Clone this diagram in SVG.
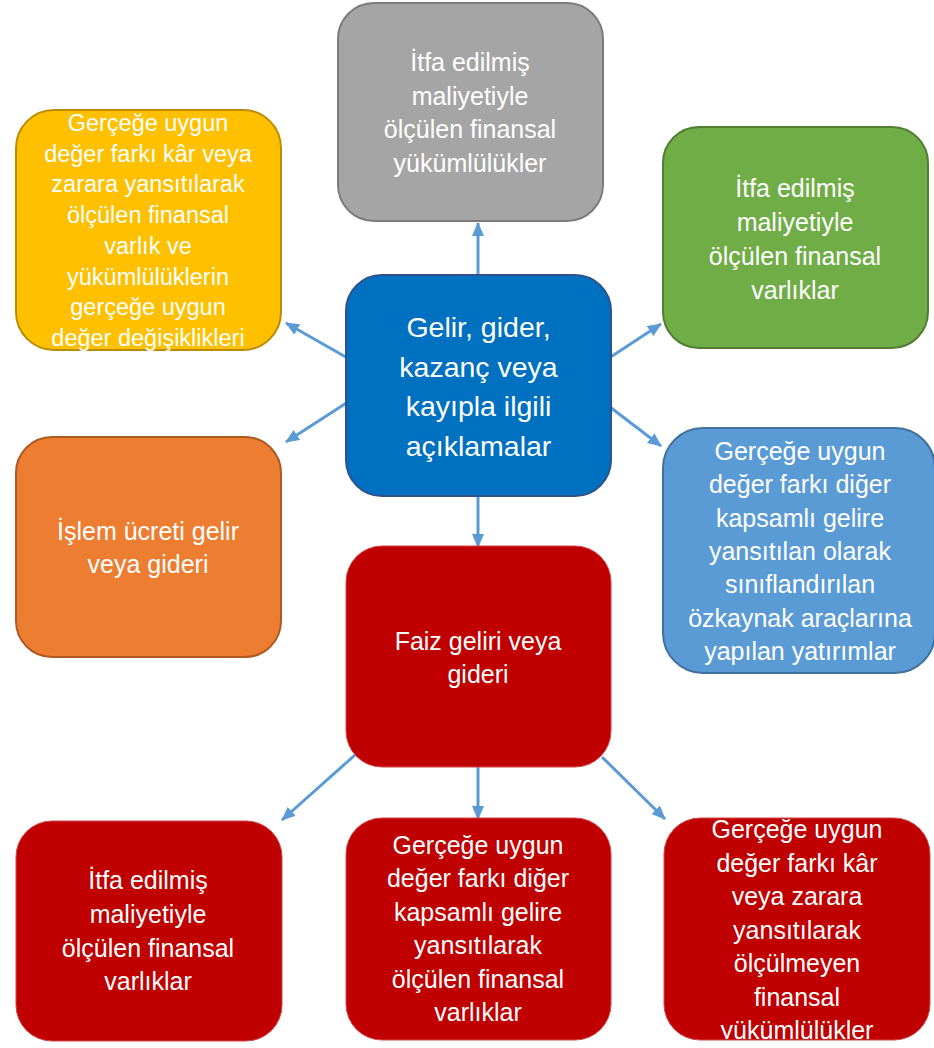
<svg xmlns="http://www.w3.org/2000/svg" width="934" height="1048" viewBox="0 0 934 1048">
<style>
.t{font-family:"Liberation Sans",Arial,sans-serif;font-size:25px;fill:#FFFFFF;text-anchor:middle}
.ts{font-size:23.5px}
.tl{font-size:28.5px}
.c{stroke:#5B9BD5;stroke-width:3;fill:none;marker-end:url(#ah)}
</style>
<defs>
<marker id="ah" markerUnits="userSpaceOnUse" markerWidth="14" markerHeight="12" viewBox="0 0 14 12" refX="13" refY="6" orient="auto">
<path d="M0,0 L14,6 L0,12 Z" fill="#5B9BD5"/>
</marker>
<clipPath id="clipBR"><rect x="664" y="818" width="267" height="221"/></clipPath>
</defs>
<rect width="934" height="1048" fill="#FFFFFF"/>

<g id="connectors">
<line class="c" x1="478" y1="275" x2="478" y2="223"/>
<line class="c" x1="351" y1="360" x2="286" y2="323"/>
<line class="c" x1="351" y1="400" x2="286" y2="442"/>
<line class="c" x1="606" y1="360" x2="661" y2="324"/>
<line class="c" x1="606" y1="404" x2="661" y2="446"/>
<line class="c" x1="478" y1="496" x2="478" y2="547"/>
<line class="c" x1="355" y1="755" x2="282" y2="820"/>
<line class="c" x1="478" y1="767" x2="478" y2="819"/>
<line class="c" x1="602" y1="757" x2="665" y2="819"/>
</g>

<g id="node-gray">
<rect x="338" y="3" width="265" height="218" rx="36" fill="#A5A5A5" stroke="#7C7C7C" stroke-width="2"/>
<text class="t" x="470" y="71">İtfa edilmiş</text>
<text class="t" x="470" y="104.5">maliyetiyle</text>
<text class="t" x="470" y="138">ölçülen finansal</text>
<text class="t" x="470" y="171.5">yükümlülükler</text>
</g>

<g id="node-yellow">
<rect x="16" y="110" width="265" height="240" rx="38" fill="#FFC000" stroke="#BC8C00" stroke-width="2"/>
<text class="t ts" x="148" y="131">Gerçeğe uygun</text>
<text class="t ts" x="148" y="161.7">değer farkı kâr veya</text>
<text class="t ts" x="148" y="192.4">zarara yansıtılarak</text>
<text class="t ts" x="148" y="223.1">ölçülen finansal</text>
<text class="t ts" x="148" y="253.8">varlık ve</text>
<text class="t ts" x="148" y="284.5">yükümlülüklerin</text>
<text class="t ts" x="148" y="315.2">gerçeğe uygun</text>
<text class="t ts" x="148" y="345.9">değer değişiklikleri</text>
</g>

<g id="node-green">
<rect x="663" y="127" width="265" height="221" rx="36" fill="#70AD47" stroke="#507E32" stroke-width="2"/>
<text class="t" x="795" y="197">İtfa edilmiş</text>
<text class="t" x="795" y="231">maliyetiyle</text>
<text class="t" x="795" y="265">ölçülen finansal</text>
<text class="t" x="795" y="299">varlıklar</text>
</g>

<g id="node-center">
<rect x="346" y="275" width="265" height="221" rx="36" fill="#0070C0" stroke="#2F528F" stroke-width="2"/>
<text class="t tl" x="478.5" y="337">Gelir, gider,</text>
<text class="t tl" x="478.5" y="376.5">kazanç veya</text>
<text class="t tl" x="478.5" y="416">kayıpla ilgili</text>
<text class="t tl" x="478.5" y="455.5">açıklamalar</text>
</g>

<g id="node-orange">
<rect x="16" y="437" width="265" height="220" rx="36" fill="#ED7D31" stroke="#AE5A21" stroke-width="2"/>
<text class="t" x="148" y="540">İşlem ücreti gelir</text>
<text class="t" x="148" y="573">veya gideri</text>
</g>

<g id="node-lightblue">
<rect x="663" y="428" width="272" height="245" rx="40" fill="#5B9BD5" stroke="#41719C" stroke-width="2"/>
<text class="t" x="800" y="460">Gerçeğe uygun</text>
<text class="t" x="800" y="493.3">değer farkı diğer</text>
<text class="t" x="800" y="526.7">kapsamlı gelire</text>
<text class="t" x="800" y="560">yansıtılan olarak</text>
<text class="t" x="800" y="593.3">sınıflandırılan</text>
<text class="t" x="800" y="626.7">özkaynak araçlarına</text>
<text class="t" x="800" y="660">yapılan yatırımlar</text>
</g>

<g id="node-interest">
<rect x="346" y="546" width="265" height="221" rx="36" fill="#C00000" stroke="#D04848" stroke-width="1"/>
<text class="t" x="478" y="650">Faiz geliri veya</text>
<text class="t" x="478" y="683">gideri</text>
</g>

<g id="node-bottom-left">
<rect x="16" y="821" width="266" height="220" rx="36" fill="#C00000" stroke="#D04848" stroke-width="1"/>
<text class="t" x="148" y="889">İtfa edilmiş</text>
<text class="t" x="148" y="923">maliyetiyle</text>
<text class="t" x="148" y="957">ölçülen finansal</text>
<text class="t" x="148" y="990">varlıklar</text>
</g>

<g id="node-bottom-center">
<rect x="346" y="818" width="265" height="222" rx="36" fill="#C00000" stroke="#D04848" stroke-width="1"/>
<text class="t" x="478" y="853.5">Gerçeğe uygun</text>
<text class="t" x="478" y="887">değer farkı diğer</text>
<text class="t" x="478" y="920.5">kapsamlı gelire</text>
<text class="t" x="478" y="954">yansıtılarak</text>
<text class="t" x="478" y="987.5">ölçülen finansal</text>
<text class="t" x="478" y="1021">varlıklar</text>
</g>

<g id="node-bottom-right">
<rect x="664" y="818" width="266" height="222" rx="36" fill="#C00000" stroke="#D04848" stroke-width="1"/>
<g clip-path="url(#clipBR)">
<text class="t" x="797" y="838">Gerçeğe uygun</text>
<text class="t" x="797" y="871.5">değer farkı kâr</text>
<text class="t" x="797" y="905">veya zarara</text>
<text class="t" x="797" y="938.5">yansıtılarak</text>
<text class="t" x="797" y="972">ölçülmeyen</text>
<text class="t" x="797" y="1005.5">finansal</text>
<text class="t" x="797" y="1039">yükümlülükler</text>
</g>
</g>
</svg>
